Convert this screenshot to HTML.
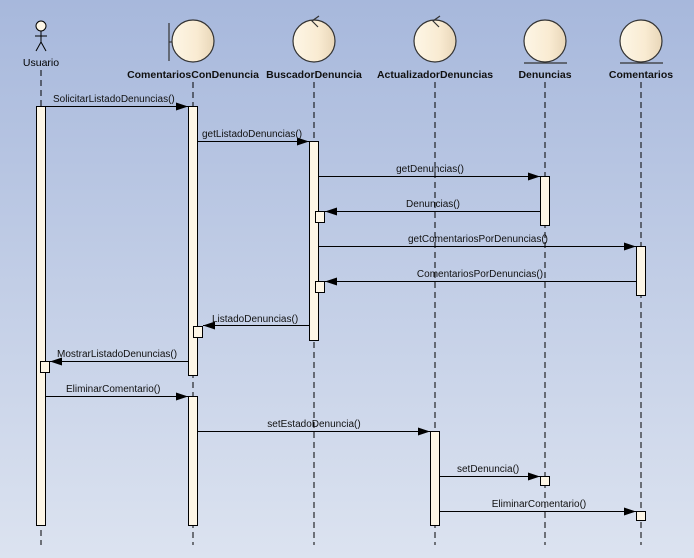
<!DOCTYPE html><html><head><meta charset="utf-8"><style>body{margin:0}svg{display:block}</style></head><body>
<svg width="694" height="558" xmlns="http://www.w3.org/2000/svg" font-family="Liberation Sans, sans-serif" font-size="10">
<defs>
<linearGradient id="bg" x1="0" y1="0" x2="0" y2="1"><stop offset="0" stop-color="#a7b8dc"/><stop offset="1" stop-color="#dce3f0"/></linearGradient>
<linearGradient id="ball" x1="0" y1="0" x2="1" y2="0"><stop offset="0" stop-color="#fdf6e6"/><stop offset="0.6" stop-color="#f9ebd2"/><stop offset="1" stop-color="#e8d6b8"/></linearGradient>
<marker id="a" markerWidth="12" markerHeight="8" refX="12" refY="4" orient="auto" markerUnits="userSpaceOnUse"><path d="M0,0 L12,4 L0,8 Z" fill="#000"/></marker>
</defs>
<rect width="694" height="558" fill="url(#bg)"/>
<g stroke="#000" stroke-dasharray="6,4" stroke-width="1">
<line x1="41" y1="70" x2="41" y2="545"/><line x1="193" y1="82" x2="193" y2="545"/><line x1="314" y1="82" x2="314" y2="545"/><line x1="435" y1="82" x2="435" y2="545"/><line x1="545" y1="82" x2="545" y2="545"/><line x1="641" y1="82" x2="641" y2="545"/>
</g>
<g stroke="#000" fill="none"><circle cx="41" cy="26" r="5" fill="#fdf6e6"/><line x1="41" y1="31" x2="41" y2="42"/><line x1="35" y1="36" x2="47" y2="36"/><line x1="41" y1="42" x2="36" y2="51"/><line x1="41" y1="42" x2="46" y2="51"/></g>
<text x="41" y="66" text-anchor="middle" font-size="10.5">Usuario</text>
<g stroke="#333" stroke-width="1.2"><line x1="169" y1="23" x2="169" y2="61"/><line x1="169" y1="42" x2="172" y2="42"/>
<circle cx="193" cy="41" r="21" fill="url(#ball)"/>
<circle cx="314" cy="41" r="21" fill="url(#ball)"/><path d="M319,16 L312,21 L318,27" fill="none"/>
<circle cx="435" cy="41" r="21" fill="url(#ball)"/><path d="M440,16 L433,21 L439,27" fill="none"/>
<circle cx="545" cy="41" r="21" fill="url(#ball)"/><line x1="524" y1="63" x2="567" y2="63"/>
<circle cx="641" cy="41" r="21" fill="url(#ball)"/><line x1="620" y1="63" x2="663" y2="63"/></g>
<g font-weight="bold" text-anchor="middle" fill="#111" font-size="10.5">
<text x="193" y="78">ComentariosConDenuncia</text><text x="314" y="78">BuscadorDenuncia</text><text x="435" y="78">ActualizadorDenuncias</text><text x="545" y="78">Denuncias</text><text x="641" y="78">Comentarios</text></g>
<g fill="#fdf6e6" stroke="#000">
<rect x="36.5" y="106.5" width="9" height="419"/>
<rect x="188.5" y="106.5" width="9" height="269"/>
<rect x="188.5" y="396.5" width="9" height="129"/>
<rect x="309.5" y="141.5" width="9" height="199"/>
<rect x="540.5" y="176.5" width="9" height="49"/>
<rect x="636.5" y="246.5" width="9" height="49"/>
<rect x="430.5" y="431.5" width="9" height="94"/>
<rect x="315.5" y="211.5" width="9" height="11"/>
<rect x="315.5" y="281.5" width="9" height="11"/>
<rect x="193.5" y="326.5" width="9" height="11"/>
<rect x="40.5" y="361.5" width="9" height="11"/>
<rect x="540.5" y="476.5" width="9" height="9"/>
<rect x="636.5" y="511.5" width="9" height="9"/>
</g>
<g stroke="#000" marker-end="url(#a)">
<line x1="46" y1="106.5" x2="188" y2="106.5"/>
<line x1="198" y1="141.5" x2="309" y2="141.5"/>
<line x1="319" y1="176.5" x2="540" y2="176.5"/>
<line x1="540" y1="211.5" x2="325" y2="211.5"/>
<line x1="319" y1="246.5" x2="636" y2="246.5"/>
<line x1="636" y1="281.5" x2="325" y2="281.5"/>
<line x1="309" y1="325.5" x2="203" y2="325.5"/>
<line x1="188" y1="361.5" x2="50" y2="361.5"/>
<line x1="46" y1="396.5" x2="188" y2="396.5"/>
<line x1="198" y1="431.5" x2="430" y2="431.5"/>
<line x1="440" y1="476.5" x2="540" y2="476.5"/>
<line x1="440" y1="511.5" x2="636" y2="511.5"/>
</g>
<g fill="#111" font-size="10">
<text x="53" y="102">SolicitarListadoDenuncias()</text>
<text x="202" y="137">getListadoDenuncias()</text>
<text x="430" y="172" text-anchor="middle">getDenuncias()</text>
<text x="433" y="207" text-anchor="middle">Denuncias()</text>
<text x="478" y="242" text-anchor="middle">getComentariosPorDenuncias()</text>
<text x="480" y="277" text-anchor="middle">ComentariosPorDenuncias()</text>
<text x="212" y="322">ListadoDenuncias()</text>
<text x="57" y="357">MostrarListadoDenuncias()</text>
<text x="66" y="392">EliminarComentario()</text>
<text x="314" y="427" text-anchor="middle">setEstadoDenuncia()</text>
<text x="457" y="472">setDenuncia()</text>
<text x="539" y="507" text-anchor="middle">EliminarComentario()</text>
</g>
</svg></body></html>
